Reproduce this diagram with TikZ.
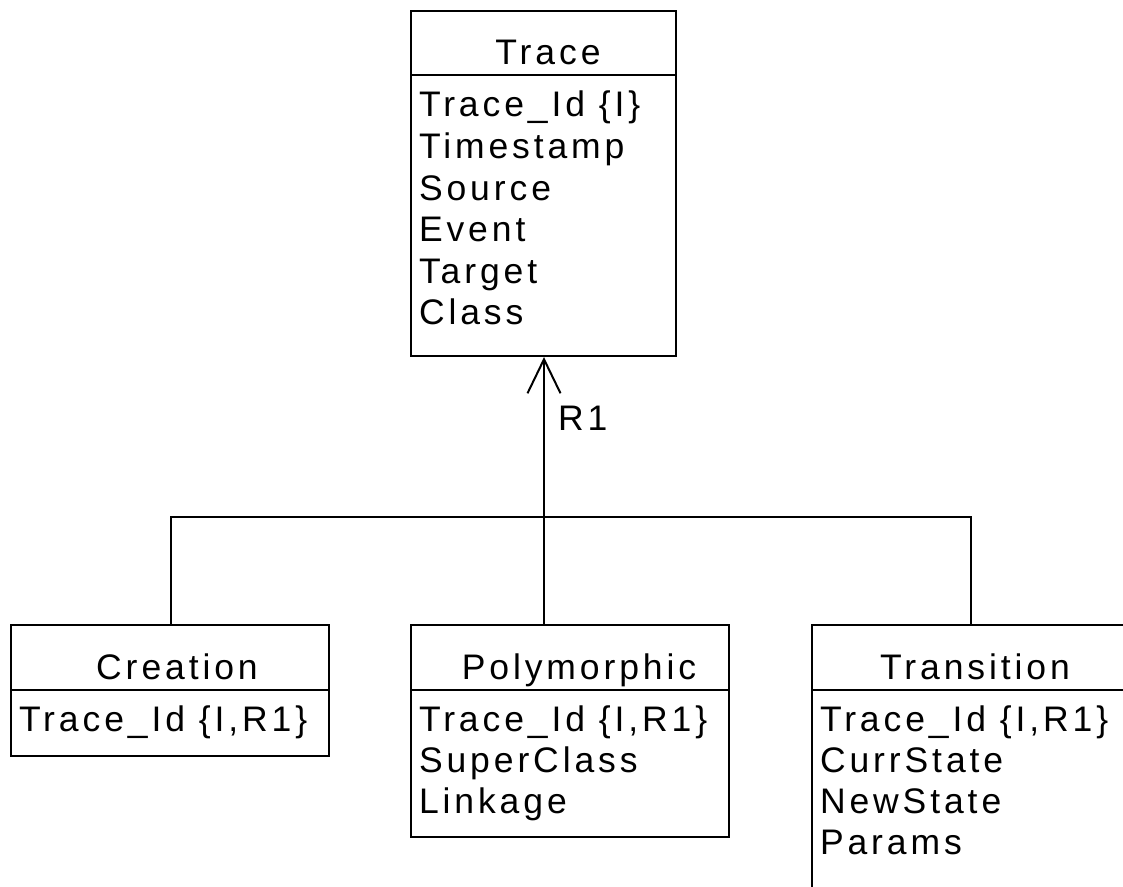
\documentclass[tikz,border=0pt]{standalone}
\usepackage{fontspec}
\setmainfont{Liberation Sans}[LetterSpace=11]
\usetikzlibrary{arrows.meta}
\begin{document}
\begin{tikzpicture}[x=0.5pt,y=-0.5pt,line width=1pt,
  box/.style={draw,line width=1pt,anchor=north west,inner sep=0pt},
  txt/.style={inner sep=0pt,font=\fontsize{17.75pt}{21pt}\selectfont},
  hdr/.style={txt,anchor=base},
  attr/.style={txt,anchor=base west},
  sep/.style={line width=1pt},
  conn/.style={line width=1pt},
  inh/.style={conn,-{Straight Barb[length=17pt,width=16.5pt,line width=1pt]}}]
\useasboundingbox (0,0) rectangle (1123,887);
\clip (0,0) rectangle (1123,887);
% boxes
\node[box,minimum width=132.5pt,minimum height=172.5pt] (trace) at (410,10) {};
\node[box,minimum width=159pt,minimum height=65.5pt] (crea) at (10,624) {};
\node[box,minimum width=159pt,minimum height=106pt] (poly) at (410,624) {};
\node[box,minimum width=170pt,minimum height=160pt] (trans) at (811,624) {};
% header separators
\draw[sep] (trace.west |- 0,75) -- (trace.east |- 0,75);
\draw[sep] (crea.west |- 0,690) -- (crea.east |- 0,690);
\draw[sep] (poly.west |- 0,690) -- (poly.east |- 0,690);
\draw[sep] (trans.west |- 0,690) -- (trans.east |- 0,690);
% Trace
\node[hdr] (trace-h) at (548,65) {Trace};
\node[attr] (trace-a1) at (418,117) {Trace\_Id \{I\}};
\node[attr] (trace-a2) at (418,158.5) {Timestamp};
\node[attr] (trace-a3) at (418,200.5) {Source};
\node[attr] (trace-a4) at (418,242) {Event};
\node[attr] (trace-a5) at (418,283.5) {Target};
\node[attr] (trace-a6) at (418,325) {Class};
% Creation
\node[hdr] (crea-h) at (177,679) {Creation};
\node[attr] (crea-a1) at (18,731) {Trace\_Id \{I,R1\}};
% Polymorphic
\node[hdr] (poly-h) at (579,679) {Polymorphic};
\node[attr] (poly-a1) at (418,731) {Trace\_Id \{I,R1\}};
\node[attr] (poly-a2) at (418,772) {SuperClass};
\node[attr] (poly-a3) at (418,813) {Linkage};
% Transition
\node[hdr] (trans-h) at (975,679) {Transition};
\node[attr] (trans-a1) at (819,731) {Trace\_Id \{I,R1\}};
\node[attr] (trans-a2) at (819,772) {CurrState};
\node[attr] (trans-a3) at (819,813) {NewState};
\node[attr] (trans-a4) at (819,854) {Params};
% connectors
\coordinate (jc) at (171,517);
\coordinate (jp) at (544,517);
\coordinate (jt) at (971,517);
\draw[conn] (jc |- crea.north) -- (jc) -- (jt) -- (jt |- trans.north);
\draw[conn] (jp |- poly.north) -- (jp);
\draw[inh] (jp) -- (jp |- trace.south);
\node[attr] (r1) at (557,430) {R1};
\end{tikzpicture}
\end{document}
